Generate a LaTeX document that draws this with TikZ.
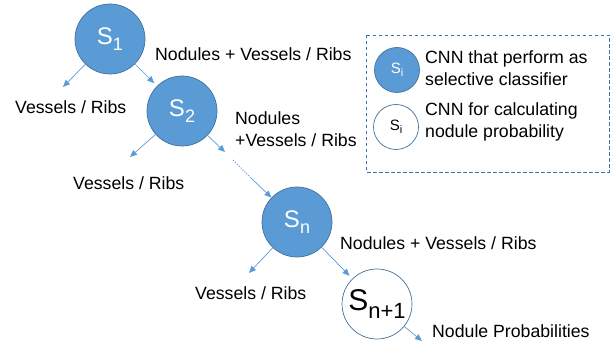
\documentclass[tikz,border=0pt]{standalone}
\usepackage{fontspec}
\setmainfont{Liberation Sans}
\usetikzlibrary{arrows.meta}
\definecolor{cnnfill}{HTML}{5B9BD5}
\definecolor{cnnline}{HTML}{41719C}
% S with a lowered index: size of S, size of index, drop, index
\newcommand{\sidx}[4]{{\fontsize{#1}{#1}\selectfont S}\raisebox{-#3}{\fontsize{#2}{#2}\selectfont #4}}

\begin{document}
\begin{tikzpicture}[
    x = 1pt, y = -1pt,
  arr/.style = {draw=cnnfill, line width=0.7pt, -{Triangle[length=7pt,width=6pt]}},
  dotline/.style = {draw=cnnfill, line width=1pt, dash pattern=on 1.2pt off 1.5pt},
  cnn/.style = {circle, fill=cnnfill, draw=cnnline, line width=0.7pt,
                minimum size=70pt, inner sep=0pt, text=white},
  probcnn/.style = {cnn, fill=white, text=black},
  lab/.style = {anchor=west, inner sep=0pt, align=left,
                font=\fontsize{17.7}{22}\selectfont}
                        ]
\useasboundingbox (0,0) rectangle (611,347);
% classifiers
    \node[cnn] (s1)  at (110,39)  {\sidx{24}{18}{6pt}{1}};
    \node[cnn] (s2)  at (182,111) {\sidx{24}{18}{6pt}{2}};
    \node[cnn] (sn)  at (297,222) {\sidx{24}{18}{6pt}{n}};
    \node[probcnn] (snp) at (377,304) {\sidx{30}{22}{7.5pt}{n+1}};
% free ends
\coordinate (v1) at (63,87);
\coordinate (v2) at (130,157);
\coordinate (v3) at (249,273);
\coordinate (d1) at (225,152);
\coordinate (d2) at (233,160);
\coordinate (d3) at (250,177);
\coordinate (p)  at (422,341);
% arrows
    \draw[arr] (s1) -- (v1);
    \draw[arr, shorten >=4pt] (s1) -- (s2);
    \draw[arr] (s2) -- (v2);
    \draw[arr] (s2) -- (d1);
    \draw[dotline] (d2) -- (d3);
    \draw[arr] (d3) -- (sn);
    \draw[arr] (sn) -- (v3);
    \draw[arr, shorten >=4pt] (sn) -- (snp);
    \draw[arr] (snp) -- (p);
% labels
    \node[lab] (l1) at (15,107)  {Vessels / Ribs};
    \node[lab] (l2) at (155,54)  {Nodules + Vessels / Ribs};
    \node[lab] (l3) at (73,183)  {Vessels / Ribs};
    \node[lab] (l4) at (235,129) {Nodules\\+Vessels / Ribs};
    \node[lab] (l5) at (195,293) {Vessels / Ribs};
    \node[lab] (l6) at (340,243) {Nodules + Vessels / Ribs};
    \node[lab] (l7) at (432,331) {Nodule Probabilities};
% legend
    \draw[cnnline, line width=0.7pt, dash pattern=on 3.5pt off 2.5pt]
        (366,35) rectangle (609,172);
    \node[cnn, minimum size=45pt] (k1) at (397,70)  {\sidx{15}{11}{3.5pt}{i}};
    \node[probcnn, minimum size=45pt] (k2) at (396,127) {\sidx{15}{11}{3.5pt}{i}};
    \node[lab] (t1) at (425,68)  {CNN that perform as\\selective classifier};
    \node[lab] (t2) at (425,122) {CNN for calculating\\nodule probability};
\end{tikzpicture}
\end{document}
